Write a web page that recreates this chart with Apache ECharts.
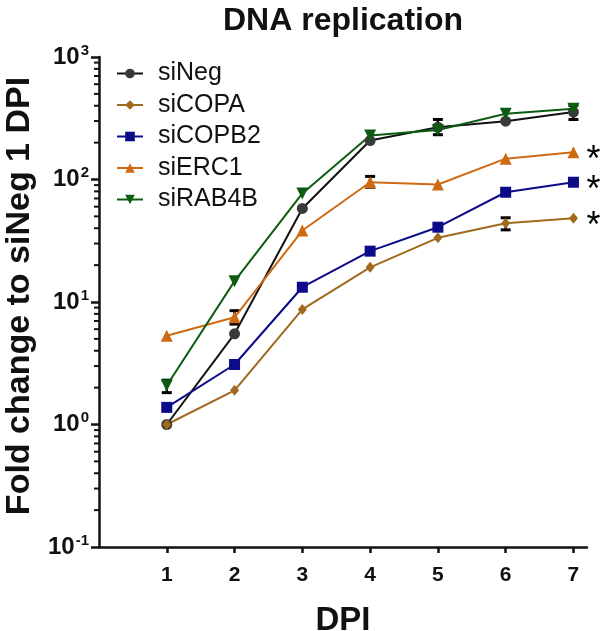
<!DOCTYPE html>
<html>
<head>
<meta charset="utf-8">
<script src="https://cdn.jsdelivr.net/npm/echarts@6/dist/echarts.min.js"></script>
<style>html,body{margin:0;padding:0;background:#fff;}#c{width:600px;height:631px;}</style>
</head>
<body>
<div id="c"></div>
<script>
// ---- data ----
var days = [1, 2, 3, 4, 5, 6, 7];
var siNeg   = [1.0, 5.5, 58, 208, 267, 299, 355];
var siCOPA  = [1.0, 1.9, 8.7, 19.2, 33.4, 44, 48.3];
var siCOPB2 = [1.38, 3.09, 13.2, 26, 40.8, 78.7, 95];
var siERC1  = [5.3, 7.5, 38.3, 95, 91, 148, 167];
var siRAB4B = [2.08, 14.8, 77, 229, 254, 344, 378];
// error bars: [day, low, high]
var siNegErr   = [[5, 232, 309], [7, 309, 402]];
var siRAB4BErr = [[1, 1.82, 2.3]];
var siERC1Err  = [[2, 6.6, 8.5], [4, 86.5, 106]];
var siCOPAErr  = [[6, 38.8, 48.7]];
var seriesNames = ['siNeg', 'siCOPA', 'siCOPB2', 'siERC1', 'siRAB4B'];
var significant = ['siCOPA', 'siCOPB2', 'siERC1'];
var xTicks = [1, 2, 3, 4, 5, 6, 7];
var yMajorTicks = [0.1, 1, 10, 100, 1000];
var yMinorTicks = [0.2, 0.3, 0.4, 0.5, 0.6, 0.7, 0.8, 0.9,
                   2, 3, 4, 5, 6, 7, 8, 9,
                   20, 30, 40, 50, 60, 70, 80, 90,
                   200, 300, 400, 500, 600, 700, 800, 900];

var FONT = '"Liberation Sans", Arial, sans-serif';
var colors = {
  siNeg: '#111111', siCOPA: '#a06a1e', siCOPB2: '#0c0c88', siERC1: '#cf6a14', siRAB4B: '#0d5c12'
};
var markerColors = {
  siNeg: '#3a3a3a', siCOPA: '#a06a1e', siCOPB2: '#0c0c88', siERC1: '#cf6a14', siRAB4B: '#0d5c12'
};
var symbols = {
  siNeg: 'circle', siCOPA: 'diamond', siCOPB2: 'rect', siERC1: 'triangle',
  siRAB4B: 'path://M0,0 L10,0 L5,9 Z'
};
var symbolSizes = { siNeg: 11, siCOPA: [9, 11], siCOPB2: 11, siERC1: 12, siRAB4B: 12 };
var valuesByName = { siNeg: siNeg, siCOPA: siCOPA, siCOPB2: siCOPB2, siERC1: siERC1, siRAB4B: siRAB4B };

var series = [];

// minor ticks on the log axis
series.push({
  type: 'custom', name: '_minor', coordinateSystem: 'cartesian2d', clip: false, silent: true, z: 5,
  data: yMinorTicks.map(function (v) { return [0, v]; }),
  encode: { x: 0, y: 1 },
  renderItem: function (params, api) {
    var p = api.coord([0, api.value(1)]);
    return { type: 'line', shape: { x1: p[0] - 5, y1: p[1], x2: p[0], y2: p[1] },
             style: { stroke: '#111', lineWidth: 2 } };
  }
});

// error bars
function errSeries(arr) {
  return {
    type: 'custom', coordinateSystem: 'cartesian2d', silent: true, z: 3,
    data: arr, encode: { x: 0, y: [1, 2] },
    renderItem: function (params, api) {
      var x = api.value(0);
      var a = api.coord([x, api.value(1)]);
      var b = api.coord([x, api.value(2)]);
      var w = 5;
      var st = { stroke: '#000', lineWidth: 2.5 };
      return { type: 'group', children: [
        { type: 'line', shape: { x1: a[0], y1: a[1], x2: b[0], y2: b[1] }, style: st },
        { type: 'line', shape: { x1: a[0] - w, y1: a[1], x2: a[0] + w, y2: a[1] }, style: { stroke: '#000', lineWidth: 3 } },
        { type: 'line', shape: { x1: b[0] - w, y1: b[1], x2: b[0] + w, y2: b[1] }, style: { stroke: '#000', lineWidth: 3 } }
      ] };
    }
  };
}
[siNegErr, siRAB4BErr, siERC1Err, siCOPAErr].forEach(function (e) { series.push(errSeries(e)); });

seriesNames.forEach(function (n) {
  var vals = valuesByName[n];
  var s = {
    type: 'line', name: n, z: 4,
    data: days.map(function (d, i) { return [d, vals[i]]; }),
    symbol: symbols[n], symbolSize: symbolSizes[n], showAllSymbol: true,
    lineStyle: { color: colors[n], width: 2 },
    itemStyle: { color: markerColors[n], borderWidth: 0 },
    emphasis: { disabled: true },
    animation: false
  };
  if (significant.indexOf(n) >= 0) {
    s.endLabel = { show: true, formatter: '*', color: '#000', fontSize: 36, fontFamily: FONT,
                   distance: 13, offset: [0, 9] };
  }
  series.push(s);
});

var chart = echarts.init(document.getElementById('c'), null, { renderer: 'canvas' });
chart.setOption({
  animation: false,
  backgroundColor: '#fff',
  title: {
    text: 'DNA replication', left: 338, top: 0, textAlign: 'center',
    textStyle: { fontFamily: FONT, fontWeight: 'bold', fontSize: 32, color: '#111' }
  },
  legend: {
    data: seriesNames, orient: 'vertical', left: 116, top: 61, padding: 0,
    itemWidth: 26, itemHeight: 12, itemGap: 6.5,
    textStyle: { fontFamily: FONT, fontSize: 25, color: '#111', padding: [0, 0, 0, 10] },
    selectedMode: false
  },
  grid: { left: 99, right: 13, top: 57, bottom: 84, containLabel: false, outerBoundsMode: 'none' },
  xAxis: {
    type: 'value', min: 0, max: 7.2, interval: 1,
    name: 'DPI', nameLocation: 'middle', nameGap: 57,
    nameTextStyle: { fontFamily: FONT, fontWeight: 'bold', fontSize: 33, color: '#111' },
    axisLine: { lineStyle: { color: '#111', width: 2.5 } },
    axisTick: { show: true, length: 6, lineStyle: { color: '#111', width: 2.5 },
                customValues: xTicks },
    axisLabel: { customValues: xTicks, fontFamily: FONT, fontWeight: 'bold', fontSize: 21, color: '#111', margin: 18,
                 formatter: function (v) { return xTicks.indexOf(v) >= 0 ? String(v) : ''; } },
    splitLine: { show: false }
  },
  yAxis: {
    type: 'log', logBase: 10, min: 0.1, max: 1000,
    name: 'Fold change to siNeg 1 DPI', nameLocation: 'middle', nameGap: 62,
    nameTextStyle: { fontFamily: FONT, fontWeight: 'bold', fontSize: 34, color: '#111', padding: [0, 0, 0, 12] },
    axisLine: { show: true, lineStyle: { color: '#111', width: 2.5 } },
    axisTick: { show: true, length: 8, lineStyle: { color: '#111', width: 2.5 } },
    axisLabel: {
      margin: 10, color: '#111',
      formatter: function (v) {
        var e = Math.round(Math.log10(v));
        return '{b|10}{e|' + (e < 0 ? '-' + (-e) : e) + '}';
      },
      rich: {
        b: { fontFamily: FONT, fontWeight: 'bold', fontSize: 24, color: '#111' },
        e: { fontFamily: FONT, fontWeight: 'bold', fontSize: 15, color: '#111', padding: [0, 0, 13, 1] }
      }
    },
    splitLine: { show: false }
  },
  series: series
});
</script>
</body>
</html>
